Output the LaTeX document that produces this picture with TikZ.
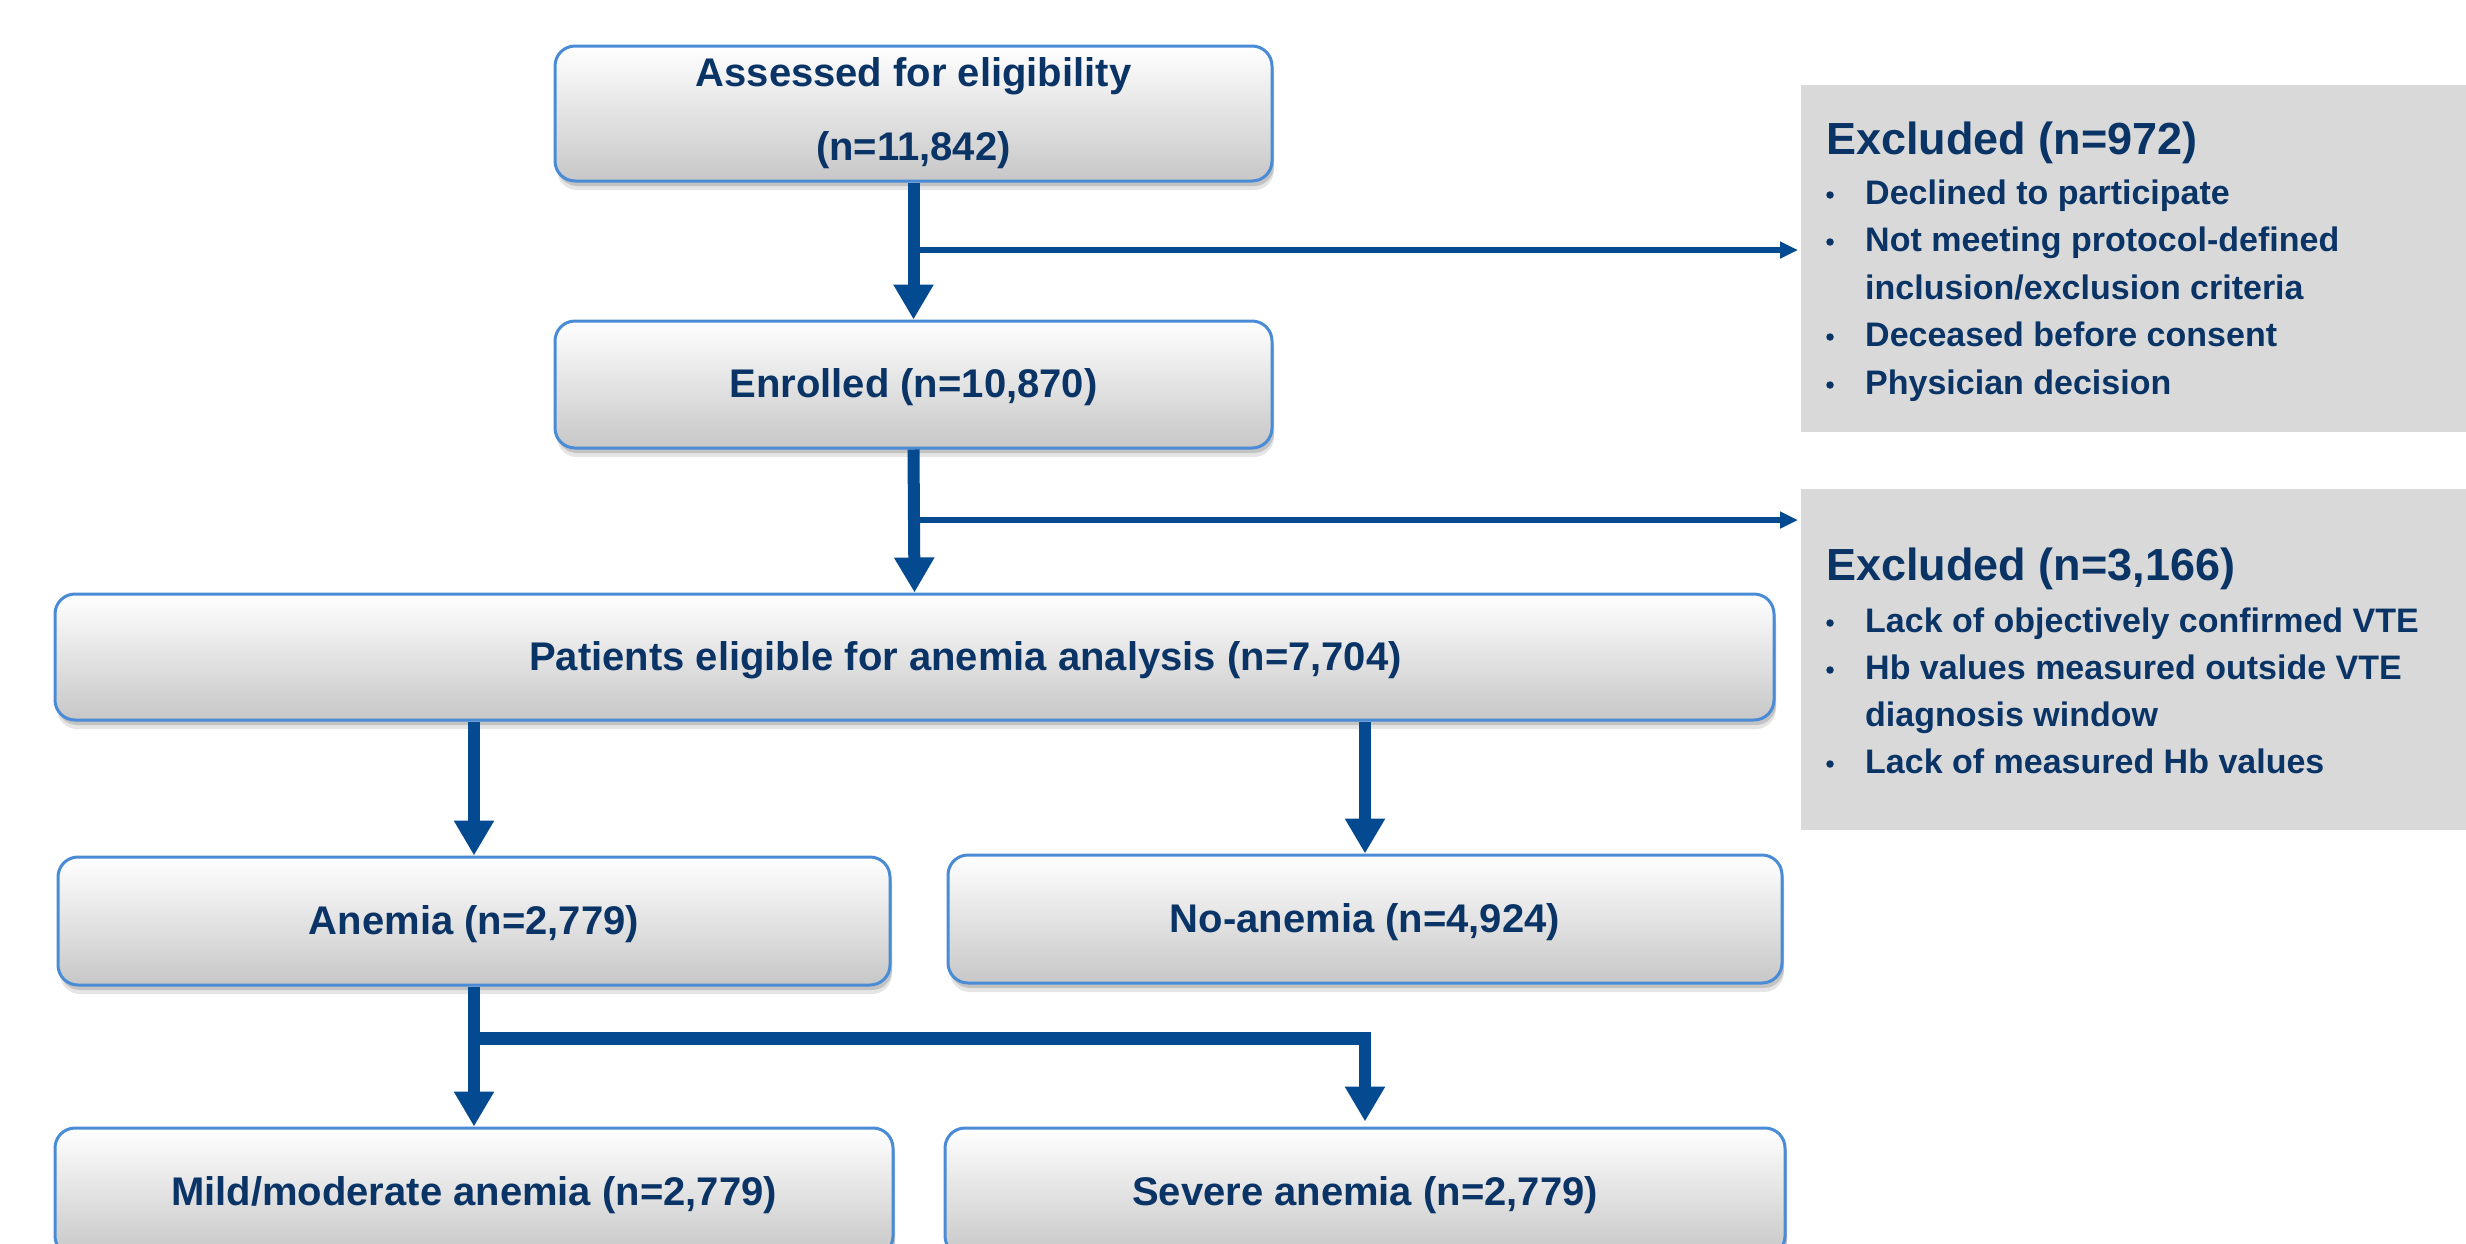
\documentclass[tikz,border=0pt]{standalone}
\usepackage{fontspec}
\setmainfont{Liberation Sans}
\usetikzlibrary{arrows.meta,shadows,calc}
\definecolor{navy}{HTML}{0B3466}
\definecolor{arrowblue}{HTML}{034A91}
\definecolor{boxborder}{HTML}{4A8BD6}
\definecolor{exgray}{HTML}{D9D9D9}
\begin{document}
\begin{tikzpicture}[x=1pt,y=-1pt,
  flowbox/.style={draw=boxborder, line width=3pt, rounded corners=20pt, top color=white, bottom color=black!22, text=navy, font=\bfseries\fontsize{40}{74}\selectfont, align=center, inner sep=0pt,
    drop shadow={shadow xshift=2pt, shadow yshift=-9pt, opacity=0.10, fill=black},
    drop shadow={shadow xshift=2pt, shadow yshift=-5pt, opacity=0.15, fill=black}},
  oneline/.style={text height=35pt, text depth=8.4pt},
  exbox/.style={fill=exgray, anchor=north west, inner sep=0pt, minimum width=665pt},
  exhead/.style={anchor=base west, text=navy, font=\bfseries\fontsize{45}{54}\selectfont, inner sep=0pt},
  exitem/.style={anchor=base west, text=navy, font=\bfseries\fontsize{34}{40}\selectfont, inner sep=0pt},
  bul/.style={circle, fill=navy, inner sep=0pt, minimum size=7.5pt},
  bigarrow/.style={draw=arrowblue, line width=12pt, -{Triangle[width=38pt,length=35pt]}},
  thinarrow/.style={draw=arrowblue, line width=6pt, -{Triangle[width=16pt,length=18pt]}},
]
\useasboundingbox (0,0) rectangle (2466,1243);

% excluded panels
\node[exbox, minimum height=347pt] (exc1) at (1801,85) {};
\node[exbox, minimum height=341pt] (exc2) at (1801,489) {};

% flow boxes
\node[flowbox, minimum width=717pt, minimum height=135pt] (b1) at (913.5,113.5) {Assessed for eligibility\\(n=11,842)};
\node[flowbox, oneline, minimum width=717pt, minimum height=127pt] (b2) at (913.5,384.5) {Enrolled (n=10,870)};
\node[flowbox, oneline, minimum width=1719pt, minimum height=126pt] (b3) at (914.5,657) {\hspace*{102pt}Patients eligible for anemia analysis (n=7,704)};
\node[flowbox, oneline, minimum width=832pt, minimum height=128pt] (b4) at (474,921) {Anemia (n=2,779)};
\node[flowbox, oneline, minimum width=834pt, minimum height=128pt] (b5) at (1365,919) {No-anemia (n=4,924)};
\node[flowbox, oneline, minimum width=838pt, minimum height=128pt] (b6) at (474,1192) {Mild/moderate anemia (n=2,779)};
\node[flowbox, oneline, minimum width=840pt, minimum height=128pt] (b7) at (1365,1192) {Severe anemia (n=2,779)};

% connectors
\draw[bigarrow] (b1.south) -- (b2.north);
\coordinate (j1) at (b1.south |- 0,250);
\draw[thinarrow, shorten >=3pt] (j1) -- (j1 -| exc1.west);

\draw[bigarrow] (b2.south) -- (b3.north);
\coordinate (j2) at (b2.south |- 0,520);
\draw[thinarrow, shorten >=3pt] (j2) -- (j2 -| exc2.west);

\draw[bigarrow] (b4.north |- b3.south) -- (b4.north);
\draw[bigarrow] (b5.north |- b3.south) -- (b5.north);

\draw[bigarrow] (b4.south) -- (b6.north);
\coordinate (j3) at (b4.south |- 0,1038);
\coordinate (j4) at (b7.north |- 0,1038);
\draw[draw=arrowblue, line width=13pt] ([xshift=-6pt]j3) -- ([xshift=6pt]j4);
\draw[bigarrow, shorten >=5pt] (j4) -- (b7.north);

% excluded texts 1
\node[exhead] (h1) at (1826,154) {Excluded (n=972)};
\node[exitem] (i11) at (1865,204) {Declined to participate};
\node[exitem] (i12) at (1865,251) {Not meeting protocol-defined};
\node[exitem] (i13) at (1865,299) {inclusion/exclusion criteria};
\node[exitem] (i14) at (1865,346) {Deceased before consent};
\node[exitem] (i15) at (1865,394) {Physician decision};
\node[bul] (d11) at (1830,195) {};
\node[bul] (d12) at (1830,242) {};
\node[bul] (d14) at (1830,337) {};
\node[bul] (d15) at (1830,385) {};

% excluded texts 2
\node[exhead] (h2) at (1826,580) {Excluded (n=3,166)};
\node[exitem] (i21) at (1865,632) {Lack of objectively confirmed VTE};
\node[exitem] (i22) at (1865,679) {Hb values measured outside VTE};
\node[exitem] (i23) at (1865,726) {diagnosis window};
\node[exitem] (i24) at (1865,773) {Lack of measured Hb values};
\node[bul] (d21) at (1830,623) {};
\node[bul] (d22) at (1830,670) {};
\node[bul] (d24) at (1830,764) {};
\end{tikzpicture}
\end{document}
